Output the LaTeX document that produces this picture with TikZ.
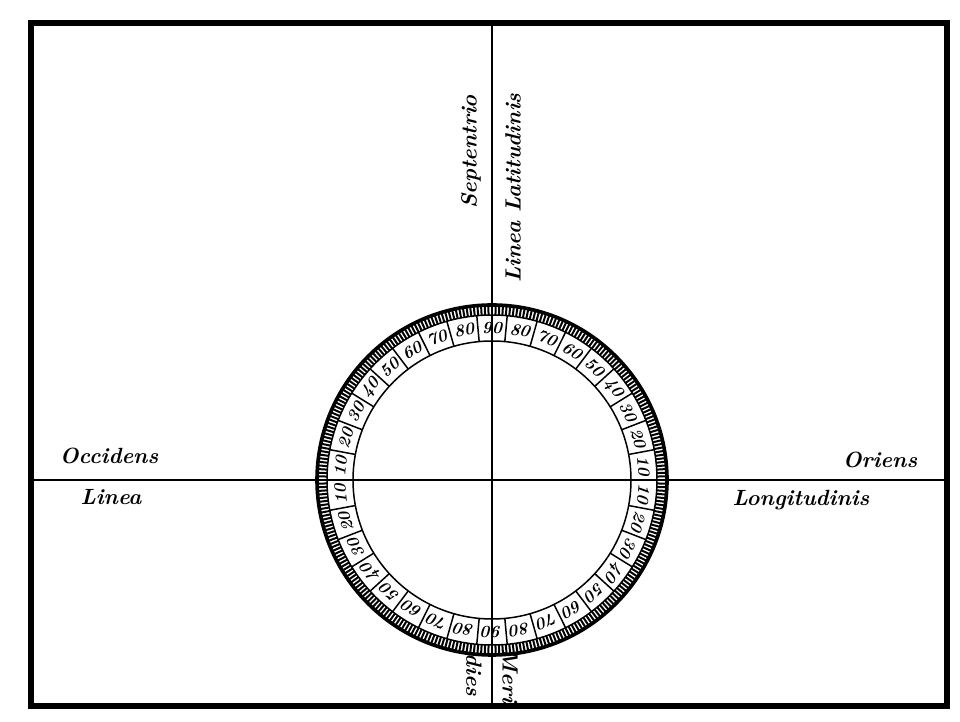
\documentclass[tikz,border=0pt]{standalone}
\usepackage{tikz}
\tikzset{
  frm/.style={line width=6pt},
  ax/.style={line width=1.8pt},
  rim/.style={line width=3.6pt},
  rung/.style={line width=2pt},
  wall/.style={line width=1.5pt},
  lbl/.style={font=\fontsize{22}{24}\selectfont\bfseries\itshape,inner sep=0pt},
  deg/.style={font=\fontsize{17}{18}\selectfont\bfseries\itshape,inner sep=0pt}
}
\newcommand{\cellw}{10.5882}

\begin{document}
\begin{tikzpicture}[x=1pt,y=1pt]
\useasboundingbox (0,0) rectangle (960,722);
\draw[frm] (31,16) rectangle (947,699);
\coordinate (N) at (492,699); \coordinate (S) at (492,16);
\coordinate (W) at (31,242); \coordinate (E) at (947,242);
\draw[ax] (N) -- (S);
\draw[ax] (W) -- (E);
% graduated ring
\begin{scope}[shift={(492,242)}]
\draw[rim] (0,0) circle (175);
\draw[wall] (0,0) circle (165);
\draw[wall] (0,0) circle (139);
\foreach \a in {0,1.2,...,358.8} \draw[rung] (\a:165) -- (\a:175);
\foreach \k in {0,...,33} \draw[wall] (\k*\cellw:139) -- (\k*\cellw:165);
\foreach \k [evaluate=\k as \n using {int(10*(min(mod(\k,17),16-mod(\k,17))+1))}] in {0,...,33}
  \node[deg,rotate={(\k+0.5)*\cellw-90}] (d\k) at ({(\k+0.5)*\cellw}:152) {\n};
\end{scope}
\node[lbl] (occ) at (109,266) {Occidens};
\node[lbl] (lin) at (111,225) {Linea};
\node[lbl] (ori) at (880,262) {Oriens};
\node[lbl] (lon) at (801,222) {Longitudinis};
\node[lbl,rotate=90] (sep) at (471,570) {Septentrio};
\node[lbl,rotate=90] (lat) at (513,534) {Linea Latitudinis};
\node[lbl,rotate=-90] (mer) at (510,46) {Meri};
\node[lbl,rotate=-90] (die) at (474,47) {dies};
\end{tikzpicture}
\end{document}
